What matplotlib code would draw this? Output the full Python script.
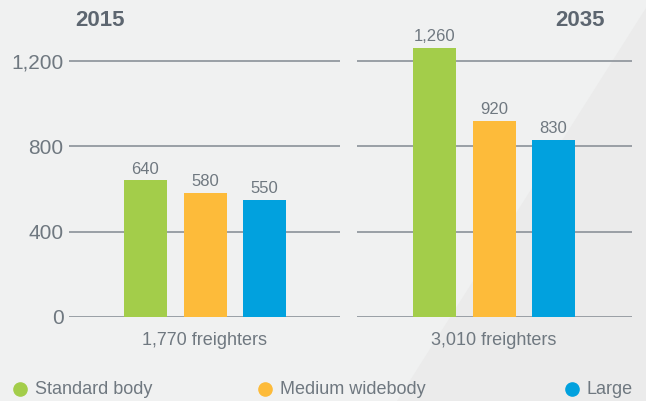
# Freighter fleet by size category, 2015 vs 2035
import matplotlib.pyplot as plt
from matplotlib.patches import Polygon

plt.rcParams['font.family'] = ['Liberation Sans', 'DejaVu Sans']

# ---- data ----
categories = ["Standard body", "Medium widebody", "Large"]
colors = ["#a3cd4a", "#fdbb3a", "#01a1de"]
years = ["2015", "2035"]
fleet_2015 = [640, 580, 550]
fleet_2035 = [1260, 920, 830]
totals = ["1,770 freighters", "3,010 freighters"]
yticks = [0, 400, 800, 1200]

bg = "#f0f1f1"
grid_col = "#8b9299"
text_col = "#6f7880"

fig = plt.figure(figsize=(6.46, 4.01), dpi=100)
fig.patch.set_facecolor(bg)

# faint diagonal shade in the lower right corner
shade = Polygon([(651 / 646, 1.0), (1.0, 1.0), (1.0, 0.0), (397 / 646, 0.0)],
                closed=True, transform=fig.transFigure,
                facecolor="#ebebeb", edgecolor="none", zorder=-5)
fig.patches.append(shade)

W, H = 646, 401
px_per_unit = (317 - 61) / 1200
ytop = 1300
ax_h = ytop * px_per_unit

def make_ax(left, right):
    ax = fig.add_axes([left / W, (H - 317) / H, (right - left) / W, ax_h / H])
    ax.set_zorder(1)
    return ax

ax1 = make_ax(69, 340)
ax2 = make_ax(357, 632)

bar_step = 59.5
bar_w = 43 / bar_step

for ax, vals, total, first_center, left, right in [
        (ax1, fleet_2015, totals[0], 145.5, 69, 340),
        (ax2, fleet_2035, totals[1], 434.5, 357, 632)]:
    ax.set_facecolor("none")
    xs = range(len(vals))
    bars = ax.bar(xs, vals, width=bar_w, color=colors, zorder=3)
    for b, v in zip(bars, vals):
        ax.text(b.get_x() + b.get_width() / 2, v + 18, f"{v:,}",
                ha="center", va="bottom", fontsize=12, color=text_col)
    ax.set_xlim(-(first_center - left) / bar_step, (right - first_center) / bar_step)
    ax.set_ylim(0, ytop)
    ax.set_yticks(yticks)
    ax.yaxis.grid(True, color=grid_col, linewidth=1.2, zorder=1)
    ax.set_axisbelow(True)
    ax.set_xticks([])
    for s in ax.spines.values():
        s.set_visible(False)
    ax.tick_params(axis="y", length=0, pad=4, labelsize=15, labelcolor=text_col)
    ax.text(1, -0.085, total, transform=ax.get_xaxis_transform(),
            ha="center", va="center", fontsize=13, color=text_col)

ax1.set_yticklabels([f"{t:,}" for t in yticks])
ax2.set_yticklabels([])

# year headings
fig.text(100 / W, 1 - 20 / H, years[0], ha="center", va="center",
         fontsize=16, fontweight="bold", color="#5d6670")
fig.text(605 / W, 1 - 20 / H, years[1], ha="right", va="center",
         fontsize=16, fontweight="bold", color="#5d6670")

# legend along the bottom
dot_x = [20, 265, 572]
for x, name, c in zip(dot_x, categories, colors):
    fig.add_artist(plt.Line2D([x / W], [1 - 389 / H], marker="o", markersize=9.5,
                              color=c, linestyle="none", transform=fig.transFigure))
    fig.text((x + 15) / W, 1 - 389 / H, name, ha="left", va="center",
             fontsize=13, color=text_col)

fig.savefig("out.png", dpi=100, facecolor=bg)
